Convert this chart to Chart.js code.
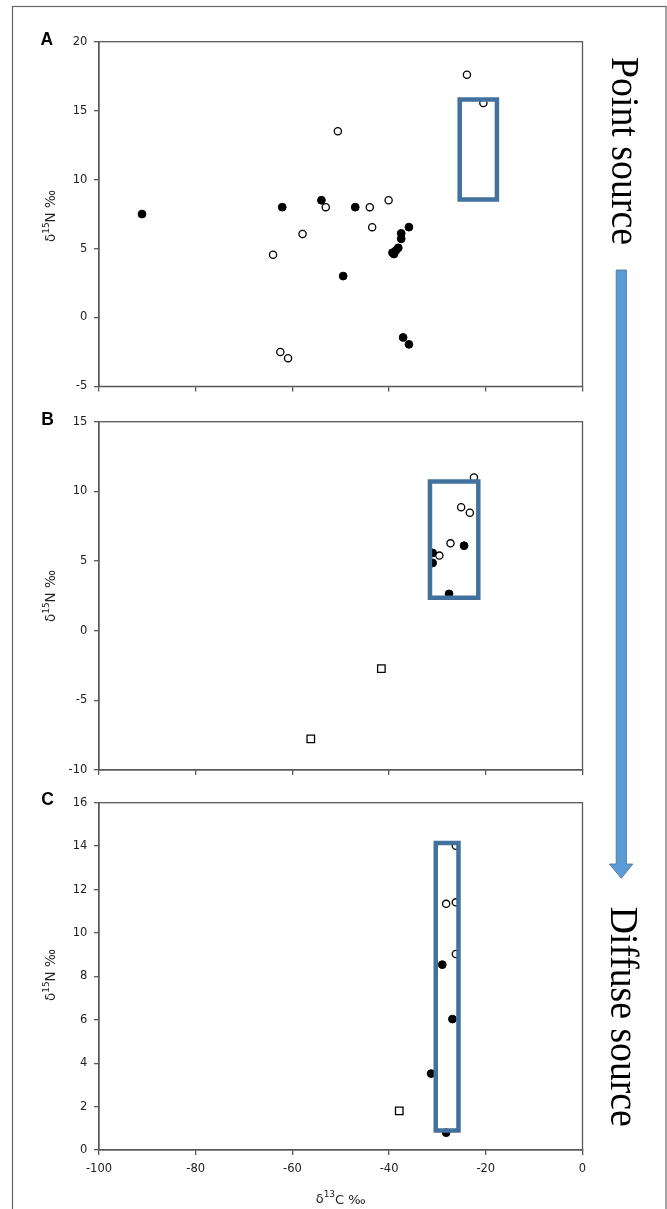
<!DOCTYPE html>
<html>
<head>
<meta charset="utf-8">
<script src="https://cdn.jsdelivr.net/npm/chart.js@4.4.1/dist/chart.umd.min.js"></script>
<style>
  html, body { margin: 0; padding: 0; background: #fff; }
  #page { position: relative; width: 667px; height: 1209px; overflow: hidden; background: #fff; }
  .panel { position: absolute; left: 0; width: 667px; }
  #overlay { position: absolute; left: 0; top: 0; pointer-events: none; }
  #overlay text { fill: #222; font-family: "DejaVu Sans", sans-serif; }
  #overlay text.letter { font-family: "Liberation Sans", sans-serif; font-weight: bold; font-size: 17.5px; fill: #000; }
  #overlay text.side { font-family: "Liberation Serif", serif; font-size: 40px; fill: #000; }
</style>
</head>
<body>
<div id="page">
  <div class="panel" style="top:0;height:400px"><canvas id="chartA"></canvas></div>
  <div class="panel" style="top:400px;height:385px"><canvas id="chartB"></canvas></div>
  <div class="panel" style="top:785px;height:424px"><canvas id="chartC"></canvas></div>
  <svg id="overlay" width="667" height="1209">
    <rect x="12.5" y="6.5" width="653.5" height="1230" fill="none" stroke="#666" stroke-width="1.2"/>
    <!-- panel letters -->
    <text class="letter" x="46.7" y="38.5" text-anchor="middle" dominant-baseline="central">A</text>
    <text class="letter" x="47.5" y="418.5" text-anchor="middle" dominant-baseline="central">B</text>
    <text class="letter" x="47.5" y="798.5" text-anchor="middle" dominant-baseline="central">C</text>
    <!-- y axis titles -->
    <text transform="translate(50,216) rotate(-90)" text-anchor="middle" dominant-baseline="central" font-size="13.5">δ<tspan dy="-4.5" font-size="9">15</tspan><tspan dy="4.5">N ‰</tspan></text>
    <text transform="translate(50,596) rotate(-90)" text-anchor="middle" dominant-baseline="central" font-size="13.5">δ<tspan dy="-4.5" font-size="9">15</tspan><tspan dy="4.5">N ‰</tspan></text>
    <text transform="translate(50,975) rotate(-90)" text-anchor="middle" dominant-baseline="central" font-size="13.5">δ<tspan dy="-4.5" font-size="9">15</tspan><tspan dy="4.5">N ‰</tspan></text>
    <!-- x axis title -->
    <text x="340.7" y="1198.5" text-anchor="middle" dominant-baseline="central" font-size="13">δ<tspan dy="-4.5" font-size="9">13</tspan><tspan dy="4.5">C ‰</tspan></text>
    <!-- arrow from point source to diffuse source -->
    <polygon points="616.2,270 626.4,270 626.4,864 632.8,864 621.3,878.3 609.4,864 616.2,864" fill="#5b9bd5" stroke="#41719c" stroke-width="0.8"/>
    <text class="side" x="612" y="151" transform="rotate(90 612 151)" text-anchor="middle" textLength="188" lengthAdjust="spacingAndGlyphs">Point source</text>
    <text class="side" x="610.5" y="1016.7" transform="rotate(90 610.5 1016.7)" text-anchor="middle" textLength="220" lengthAdjust="spacingAndGlyphs">Diffuse source</text>
  </svg>
</div>
<script>
// ---- data: d13C on x, d15N on y ----
const xRange = [-100, 0, 20];

// A: point source
const yRangeA = [-5, 20, 5];
const aFilledX = [-91.1, -62.1, -54, -47, -49.5, -39.0, -39.3, -38.6, -38.1, -37.5, -37.5, -35.9, -37.1, -35.9];
const aFilledY = [7.5, 8, 8.5, 8, 3, 4.6, 4.7, 4.85, 5.05, 5.7, 6.1, 6.55, -1.45, -1.95];
const aOpenX = [-23.9, -20.5, -50.6, -53.1, -44, -43.5, -40.1, -57.9, -64, -62.5, -60.9];
const aOpenY = [17.6, 15.55, 13.5, 8, 8, 6.55, 8.5, 6.05, 4.55, -2.5, -2.95];
const aBoxX = [-25.4, -17.7];
const aBoxY = [8.55, 15.8];

// B
const yRangeB = [-10, 15, 5];
const bFilledX = [-24.5, -31, -31, -27.6];
const bFilledY = [6.1, 5.58, 4.86, 2.64];
const bOpenX = [-22.45, -25.1, -23.3, -27.3, -29.6];
const bOpenY = [11, 8.86, 8.47, 6.27, 5.39];
const bSquareX = [-41.6, -56.2];
const bSquareY = [-2.72, -7.76];
const bBoxX = [-31.55, -21.55];
const bBoxY = [2.36, 10.7];

// C: diffuse source
const yRangeC = [0, 16, 2];
const cFilledX = [-29, -26.9, -31.3, -28.2];
const cFilledY = [8.54, 6.03, 3.52, 0.8];
const cOpenX = [-26.2, -28.2, -26.2, -26.2];
const cOpenY = [14.02, 11.34, 11.41, 9.03];
const cSquareX = [-37.9];
const cSquareY = [1.8];
const cBoxX = [-30.35, -25.65];
const cBoxY = [0.9, 14.14];

const AXIS = '#595959';
const BOX = '#41719c';
const TICK_FONT = { family: 'DejaVu Sans', size: 11.5 };

function pts(xs, ys) { return xs.map((x, i) => ({ x, y: ys[i] })); }
function boxPath(xs, ys) {
  return [
    { x: xs[0], y: ys[0] }, { x: xs[1], y: ys[0] }, { x: xs[1], y: ys[1] },
    { x: xs[0], y: ys[1] }, { x: xs[0], y: ys[0] },
  ];
}

// draws the closed box round the plot area (top and right edges too)
const plotFrame = {
  id: 'plotFrame',
  beforeDatasetsDraw(chart) {
    const { ctx, chartArea: a } = chart;
    ctx.save();
    ctx.strokeStyle = AXIS;
    ctx.lineWidth = 1.3;
    ctx.strokeRect(a.left, a.top, a.right - a.left, a.bottom - a.top);
    ctx.restore();
  },
};

function makePanel(id, p) {
  const datasets = [
    { data: boxPath(p.boxX, p.boxY), showLine: true, borderColor: BOX, borderWidth: 4.5,
      borderJoinStyle: 'miter', borderCapStyle: 'square', pointRadius: 0, tension: 0, order: 0 },
    { data: pts(p.openX, p.openY), pointStyle: 'circle', pointRadius: 3.6, pointBorderWidth: 1.3,
      pointBackgroundColor: '#fff', pointBorderColor: '#000', order: 1 },
    { data: pts(p.filledX, p.filledY), pointStyle: 'circle', pointRadius: 3.9, pointBorderWidth: 1,
      pointBackgroundColor: '#000', pointBorderColor: '#000', order: 2 },
  ];
  if (p.squareX) {
    datasets.push({ data: pts(p.squareX, p.squareY), pointStyle: 'rect', pointRadius: 5.3, pointBorderWidth: 1.3,
      pointBackgroundColor: '#fff', pointBorderColor: '#000', order: 1 });
  }
  return new Chart(document.getElementById(id), {
    type: 'scatter',
    data: { datasets },
    options: {
      responsive: true,
      maintainAspectRatio: false,
      animation: false,
      layout: { padding: { left: 0, right: 84.5, top: p.padTop, bottom: 0 } },
      plugins: { legend: { display: false }, tooltip: { enabled: false } },
      scales: {
        x: {
          type: 'linear', min: xRange[0], max: xRange[1],
          ticks: { stepSize: xRange[2], display: p.xLabels, color: '#222', font: TICK_FONT, padding: 7, maxRotation: 0 },
          grid: { drawOnChartArea: false, drawTicks: true, tickLength: 5, color: AXIS, lineWidth: 1.3 },
          border: { color: AXIS, width: 1.3 },
          afterFit(s) { s.height = p.xHeight; },
        },
        y: {
          type: 'linear', min: p.yRange[0], max: p.yRange[1],
          ticks: { stepSize: p.yRange[2], color: '#222', font: TICK_FONT, padding: 6.7 },
          grid: { drawOnChartArea: false, drawTicks: true, tickLength: 5, color: AXIS, lineWidth: 1.3 },
          border: { color: AXIS, width: 1.3 },
          afterFit(s) { s.width = 99; },
        },
      },
    },
    plugins: [plotFrame],
  });
}

makePanel('chartA', { yRange: yRangeA, filledX: aFilledX, filledY: aFilledY, openX: aOpenX, openY: aOpenY,
  boxX: aBoxX, boxY: aBoxY, padTop: 41.7, xHeight: 10.7, xLabels: false });
makePanel('chartB', { yRange: yRangeB, filledX: bFilledX, filledY: bFilledY, openX: bOpenX, openY: bOpenY,
  squareX: bSquareX, squareY: bSquareY, boxX: bBoxX, boxY: bBoxY, padTop: 21.7, xHeight: 15, xLabels: false });
makePanel('chartC', { yRange: yRangeC, filledX: cFilledX, filledY: cFilledY, openX: cOpenX, openY: cOpenY,
  squareX: cSquareX, squareY: cSquareY, boxX: cBoxX, boxY: cBoxY, padTop: 17.7, xHeight: 59, xLabels: true });
</script>
</body>
</html>
